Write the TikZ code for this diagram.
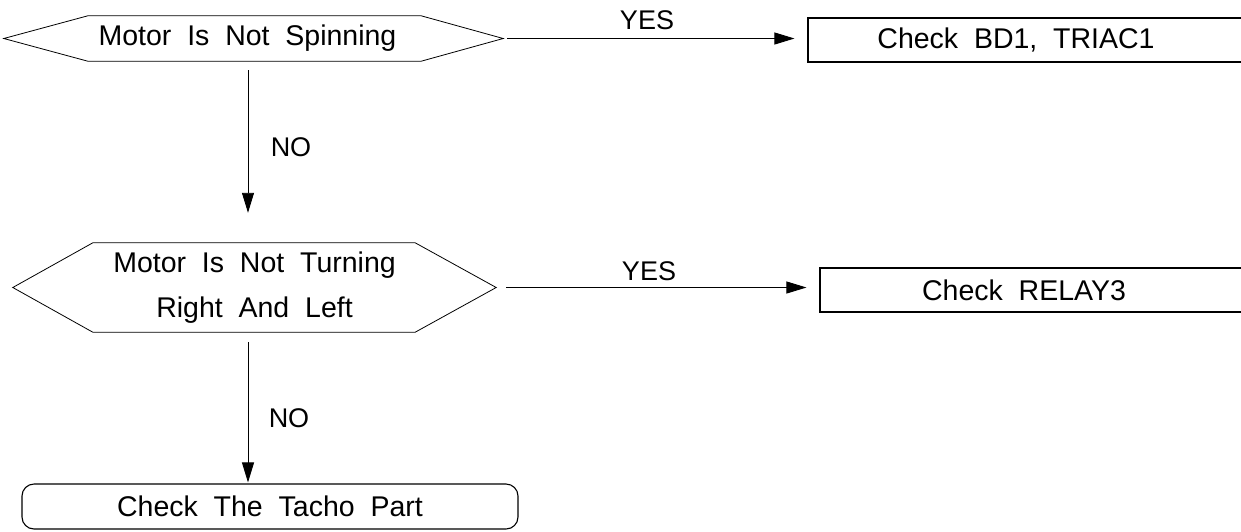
\documentclass[tikz,border=0pt]{standalone}
\usepackage{fontspec}
\setmainfont{Liberation Sans}[WordSpace=2]
\usetikzlibrary{arrows.meta}
\tikzset{
  boxtext/.style={font=\fontsize{28.5}{45}\selectfont, inner sep=0pt, align=center},
  lbl/.style={font=\fontsize{27}{30}\selectfont, inner sep=0pt},
  hexnode/.style={boxtext, minimum height=#1},
  hexline/.style={line width=0.8pt},
  boxline/.style={draw, line width=1.1pt, inner sep=0pt},
  conn/.style={line width=0.9pt, -{Triangle[length=20pt,width=12pt]}}
}
\begin{document}
\begin{tikzpicture}[x=1pt,y=-1pt]
\useasboundingbox (0,0) rectangle (1241,531);
\clip (0,0) rectangle (1241,531);
\fill[white] (0,0) rectangle (1241,531);

% decision 1
\node[hexnode=45pt, minimum width=499pt] (h1) at (253.5,38.5) {Motor Is Not Spinning\hspace*{12pt}};
\draw[hexline] (h1.west) -- ([xshift=84pt]h1.north west) -- ([xshift=-82pt]h1.north east)
  -- (h1.east) -- ([xshift=-82pt]h1.south east) -- ([xshift=84pt]h1.south west) -- cycle;

% decision 2
\node[hexnode=89pt, minimum width=483pt] (h2) at (254.5,287.5) {\raisebox{4pt}{Motor Is Not Turning}\\\raisebox{4pt}{Right And Left}};
\draw[hexline] (h2.west) -- ([xshift=80pt]h2.north west) -- ([xshift=-81pt]h2.north east)
  -- (h2.east) -- ([xshift=-81pt]h2.south east) -- ([xshift=80pt]h2.south west) -- cycle;

% action boxes
\node[boxline, minimum width=452pt, minimum height=44pt] (b1) at (1034,40) {};
\node[boxtext] (b1t) at (1016,40) {Check BD1, TRIAC1};
\node[boxline, minimum width=440pt, minimum height=44pt] (b2) at (1040,290) {};
\node[boxtext] (b2t) at (1024,290) {Check RELAY3};

% terminal
\node[boxline, boxtext, rounded corners=12pt, minimum width=496pt, minimum height=45pt] (r) at (270,506.5) {Check The Tacho Part};

% connectors
\draw[conn, shorten <=4pt, shorten >=13pt] (h1.east) -- (h1.east -| b1.west);
\draw[conn, shorten <=10pt, shorten >=13pt] (h2.east) -- (h2.east -| b2.west);
\draw[conn, shorten <=9pt, shorten >=30pt] ([xshift=-5.5pt]h1.south) -- ([xshift=-5.5pt]h1.south |- h2.north);
\draw[conn, shorten <=10pt, shorten >=1pt] ([xshift=-6.5pt]h2.south) -- ([xshift=-6.5pt]h2.south |- r.north);

% labels
\node[lbl] (y1) at (647,20) {YES};
\node[lbl] (y2) at (649,271) {YES};
\node[lbl] (n1) at (291,147) {NO};
\node[lbl] (n2) at (289,418) {NO};
\end{tikzpicture}
\end{document}
